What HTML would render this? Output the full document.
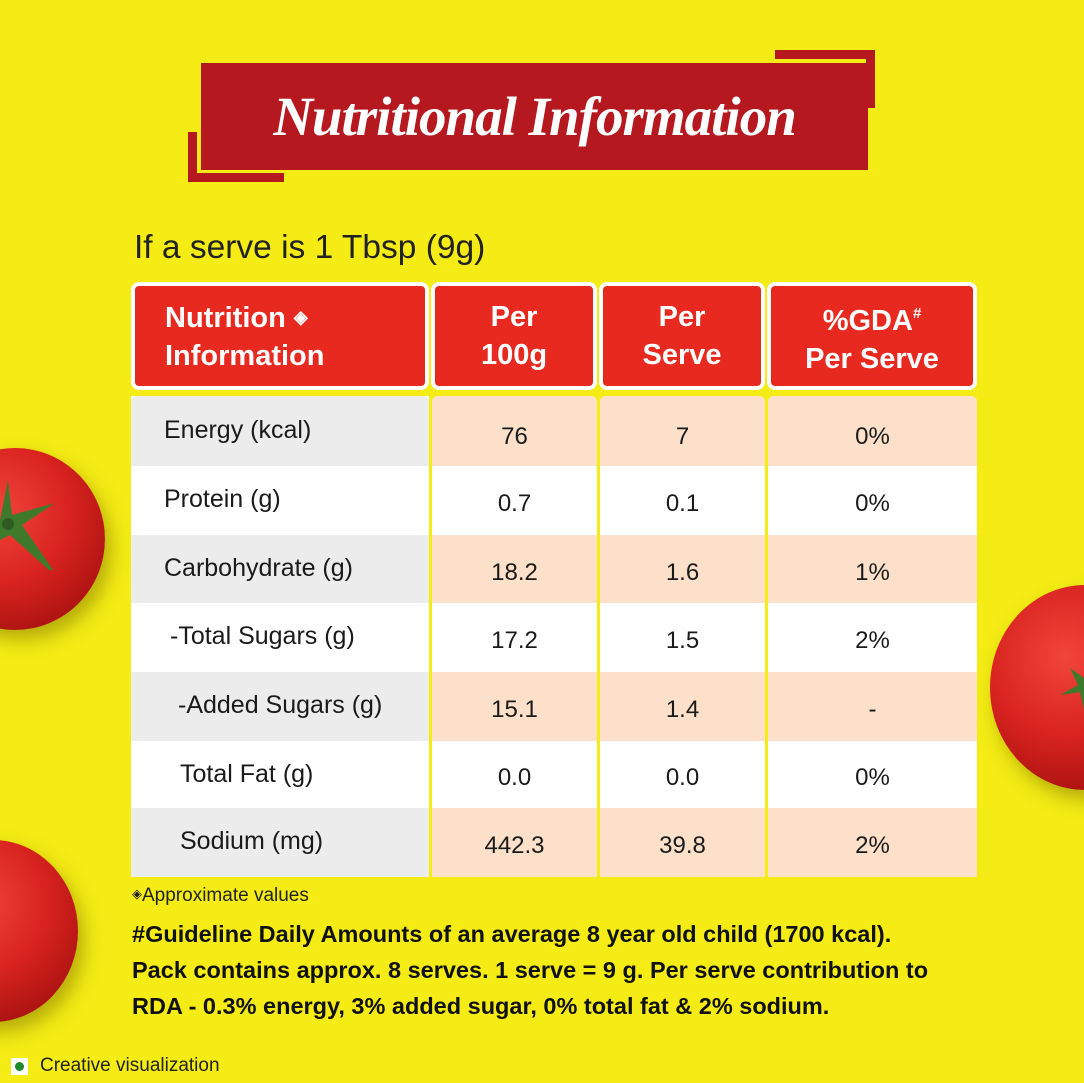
<!DOCTYPE html>
<html><head><meta charset="utf-8"><style>
*{margin:0;padding:0;box-sizing:border-box}
body{width:1084px;height:1083px;background:#f4ec14;position:relative;overflow:hidden;font-family:"Liberation Sans",sans-serif;color:#1a1a1a}
.a{position:absolute}
.tom{position:absolute;border-radius:50%;background:radial-gradient(circle at 40% 35%,#f0453a 0%,#d9231f 45%,#a3100f 85%,#7d0a0a 100%);box-shadow:6px 10px 18px rgba(120,110,0,.5)}
.hd{position:absolute;top:282px;height:108px;background:#e8291f;border:4px solid #fff;border-radius:8px;color:#fff;font-weight:bold;font-size:29px;line-height:38px;display:flex;align-items:center;justify-content:center;text-align:center}
.c{position:absolute;font-size:25px;display:flex;align-items:center}
.n{justify-content:center;font-size:24px}
</style></head><body>
<div class="tom" style="left:-75px;top:448px;width:180px;height:182px"></div>
<div class="tom" style="left:990px;top:585px;width:190px;height:205px"></div>
<div class="tom" style="left:-92px;top:840px;width:170px;height:182px"></div>
<svg class="a" style="left:0;top:440px" width="70" height="130"><path d="M0 80 L8 40 L12 75 L55 63 L22 85 L60 140 L10 95 L0 100Z" fill="#3f7a2c"/><circle cx="8" cy="84" r="6" fill="#2f5a20"/></svg>
<svg class="a" style="left:1050px;top:650px" width="34" height="70"><path d="M34 28 L20 18 L28 35 L10 45 L30 42 L34 60Z" fill="#3f7a2c"/></svg>

<div class="a" style="left:188px;top:132px;width:96px;height:50px;border-left:9px solid #b5191f;border-bottom:9px solid #b5191f"></div>
<div class="a" style="left:775px;top:50px;width:100px;height:58px;border-top:9px solid #b5191f;border-right:9px solid #b5191f"></div>
<div class="a" style="left:201px;top:63px;width:667px;height:107px;background:#b5191f"></div>
<div class="a" style="left:201px;top:63px;width:667px;height:107px;color:#fff;font-family:'Liberation Serif',serif;font-style:italic;font-weight:bold;font-size:55px;text-align:center;line-height:107px;letter-spacing:-1px">Nutritional Information</div>

<div class="a" style="left:134px;top:229px;font-size:33.5px;color:#222">If a serve is 1 Tbsp (9g)</div>

<div class="hd" style="left:131px;width:298px;justify-content:flex-start;padding-left:30px;text-align:left"><div>Nutrition <span style="font-size:18px;vertical-align:4px">◈</span><br>Information</div></div>
<div class="hd" style="left:431px;width:166px"><div>Per<br>100g</div></div>
<div class="hd" style="left:599px;width:166px"><div>Per<br>Serve</div></div>
<div class="hd" style="left:767px;width:210px"><div>%GDA<span style="font-size:15px;vertical-align:12px">#</span><br>Per Serve</div></div>

<div class="a" style="left:131px;top:396px;width:298px;height:481px;background:#fff"></div>
<div class="a" style="left:432px;top:396px;width:165px;height:481px;background:#fff;border-radius:6px"></div>
<div class="a" style="left:600px;top:396px;width:165px;height:481px;background:#fff;border-radius:6px"></div>
<div class="a" style="left:768px;top:396px;width:209px;height:481px;background:#fff;border-radius:6px"></div>
<div class="a" style="left:131px;top:396px;width:298px;height:70px;background:#ececec;border-radius:6px 6px 0 0"></div>
<div class="a" style="left:131px;top:535px;width:298px;height:68px;background:#ececec"></div>
<div class="a" style="left:131px;top:672px;width:298px;height:69px;background:#ececec"></div>
<div class="a" style="left:131px;top:808px;width:298px;height:69px;background:#ececec"></div>
<div class="a" style="left:432px;top:396px;width:165px;height:70px;background:#fde0c9;border-radius:6px 6px 0 0"></div>
<div class="a" style="left:600px;top:396px;width:165px;height:70px;background:#fde0c9;border-radius:6px 6px 0 0"></div>
<div class="a" style="left:768px;top:396px;width:209px;height:70px;background:#fde0c9;border-radius:6px 6px 0 0"></div>
<div class="a" style="left:432px;top:535px;width:545px;height:68px;background:linear-gradient(90deg,#fde0c9 165px,#f4ec14 165px,#f4ec14 168px,#fde0c9 168px,#fde0c9 333px,#f4ec14 333px,#f4ec14 336px,#fde0c9 336px)"></div>
<div class="a" style="left:432px;top:672px;width:545px;height:69px;background:linear-gradient(90deg,#fde0c9 165px,#f4ec14 165px,#f4ec14 168px,#fde0c9 168px,#fde0c9 333px,#f4ec14 333px,#f4ec14 336px,#fde0c9 336px)"></div>
<div class="a" style="left:432px;top:808px;width:545px;height:69px;background:linear-gradient(90deg,#fde0c9 165px,#f4ec14 165px,#f4ec14 168px,#fde0c9 168px,#fde0c9 333px,#f4ec14 333px,#f4ec14 336px,#fde0c9 336px)"></div>

<div class="c" style="left:164px;top:396px;height:68px">Energy (kcal)</div>
<div class="c" style="left:164px;top:466px;height:66px">Protein (g)</div>
<div class="c" style="left:164px;top:535px;height:66px">Carbohydrate (g)</div>
<div class="c" style="left:170px;top:603px;height:66px">-Total Sugars (g)</div>
<div class="c" style="left:178px;top:672px;height:66px">-Added Sugars (g)</div>
<div class="c" style="left:180px;top:741px;height:66px">Total Fat (g)</div>
<div class="c" style="left:180px;top:808px;height:66px">Sodium (mg)</div>

<div class="c n" style="left:432px;width:165px;top:402px;height:70px">76</div>
<div class="c n" style="left:432px;width:165px;top:471px;height:66px">0.7</div>
<div class="c n" style="left:432px;width:165px;top:539px;height:68px">18.2</div>
<div class="c n" style="left:432px;width:165px;top:607px;height:68px">17.2</div>
<div class="c n" style="left:432px;width:165px;top:676px;height:68px">15.1</div>
<div class="c n" style="left:432px;width:165px;top:744px;height:68px">0.0</div>
<div class="c n" style="left:432px;width:165px;top:812px;height:68px">442.3</div>

<div class="c n" style="left:600px;width:165px;top:402px;height:70px">7</div>
<div class="c n" style="left:600px;width:165px;top:471px;height:66px">0.1</div>
<div class="c n" style="left:600px;width:165px;top:539px;height:68px">1.6</div>
<div class="c n" style="left:600px;width:165px;top:607px;height:68px">1.5</div>
<div class="c n" style="left:600px;width:165px;top:676px;height:68px">1.4</div>
<div class="c n" style="left:600px;width:165px;top:744px;height:68px">0.0</div>
<div class="c n" style="left:600px;width:165px;top:812px;height:68px">39.8</div>

<div class="c n" style="left:768px;width:209px;top:402px;height:70px">0%</div>
<div class="c n" style="left:768px;width:209px;top:471px;height:66px">0%</div>
<div class="c n" style="left:768px;width:209px;top:539px;height:68px">1%</div>
<div class="c n" style="left:768px;width:209px;top:607px;height:68px">2%</div>
<div class="c n" style="left:768px;width:209px;top:676px;height:68px">-</div>
<div class="c n" style="left:768px;width:209px;top:744px;height:68px">0%</div>
<div class="c n" style="left:768px;width:209px;top:812px;height:68px">2%</div>

<div class="a" style="left:132px;top:885px;font-size:19px;color:#222"><span style="font-size:13px;vertical-align:3px">◈</span>Approximate values</div>
<div class="a" style="left:132px;top:916px;font-size:23.5px;font-weight:bold;line-height:36px;color:#111;white-space:nowrap">#Guideline Daily Amounts of an average 8 year old child (1700 kcal).<br>Pack contains approx. 8 serves. 1 serve = 9 g. Per serve contribution to<br>RDA - 0.3% energy, 3% added sugar, 0% total fat &amp; 2% sodium.</div>

<div class="a" style="left:11px;top:1058px;width:17px;height:17px;border:2px solid #fff;background:#fff"><div style="margin:2px;width:9px;height:9px;border-radius:50%;background:#1a8a2a"></div></div>
<div class="a" style="left:40px;top:1055px;font-size:19px;color:#222">Creative visualization</div>
</body></html>
